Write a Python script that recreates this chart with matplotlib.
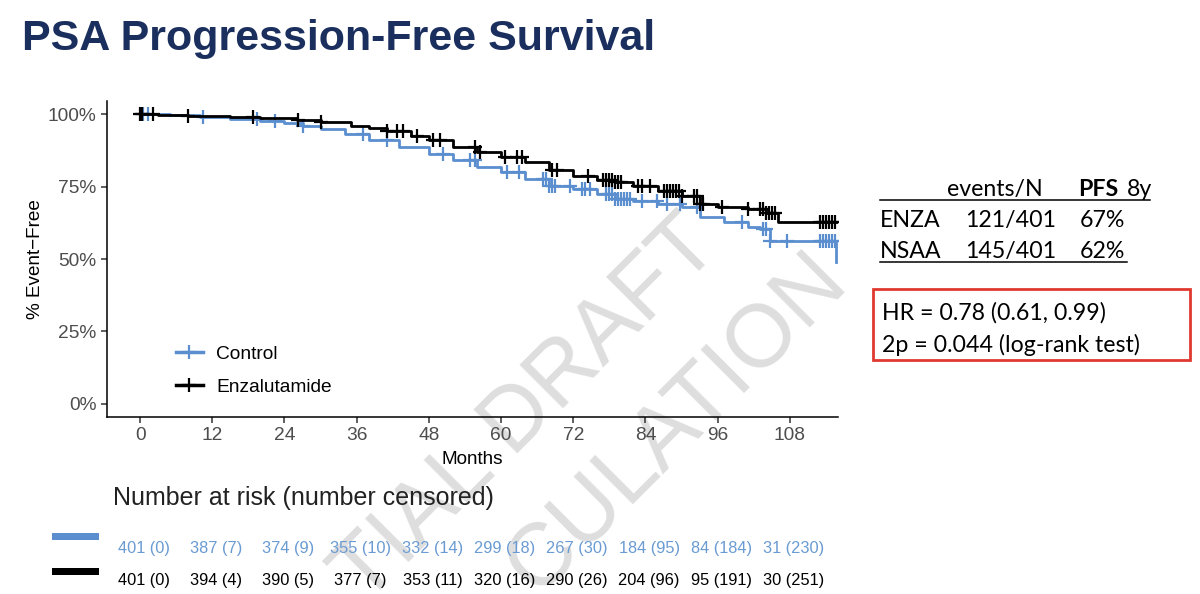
# PSA progression-free survival (KM) ---------------
import numpy as np
import matplotlib.pyplot as plt
from matplotlib.lines import Line2D
from matplotlib.patches import Rectangle
import matplotlib.transforms as mtrans

# 데이터 -------------------------------------------
enza_t = [0, 3, 8, 15, 20, 26, 30, 35, 38, 41, 45, 48, 52, 56, 60, 64, 68, 72,
          76, 79, 82, 86, 90, 93, 96, 101, 104, 106, 116]
enza_s = [100, 99.6, 99.2, 98.9, 98.5, 98.1, 97.2, 96.0, 95.2, 94.2, 92.5, 91.0,
          88.8, 87.0, 85.1, 83.4, 80.8, 78.7, 77.2, 76.5, 75.2, 73.5, 71.6, 69.0,
          67.8, 67.1, 66.0, 62.8, 62.8]
enza_cens = [0, 0.3, 2.2, 8, 18.8, 26.2, 30, 41, 42.7, 43.7, 46, 48.7, 49.8, 55.6,
             56.5, 60.6, 62.6, 63.5, 68.4, 69.3, 74.4, 77, 77.5, 78, 78.5, 79, 79.5,
             80, 82.7, 83.5, 84.7, 87, 87.5, 88, 88.5, 89, 89.5, 90, 92, 92.5, 93,
             93.5, 96.8, 101, 103, 103.5, 104, 104.5, 105, 105.5, 113, 113.5, 114,
             114.5, 115, 115.5]

ctrl_t = [0, 5, 10, 15, 20, 24, 27, 30, 34, 38, 43, 48, 52, 56, 60, 64, 68, 72,
          76, 79, 82, 86, 90, 93, 97, 101, 103, 104.7, 115.7]
ctrl_s = [100, 99.5, 99.0, 98.4, 97.5, 96.8, 96.0, 95.0, 93.2, 91.2, 88.6, 86.3,
          84.0, 81.7, 79.9, 77.5, 75.2, 74.0, 72.3, 70.6, 70.0, 68.9, 67.8, 64.4,
          62.6, 60.9, 60.2, 56.3, 49.0]
ctrl_cens = [0.5, 1.3, 10.5, 19.4, 22.4, 27, 37, 41, 50.3, 54.8, 55.6, 61, 63, 67,
             67.5, 68, 68.5, 69, 71.4, 73.4, 74, 74.8, 77.5, 78, 78.5, 79, 79.5, 80,
             80.5, 81, 81.4, 83.5, 85.9, 87.5, 89.7, 92.5, 100, 103.5, 104, 104.7,
             107.5, 113, 113.5, 114, 114.5, 115, 115.5]

risk_times = [0, 12, 24, 36, 48, 60, 72, 84, 96, 108]
ctrl_risk = ["401 (0)", "387 (7)", "374 (9)", "355 (10)", "332 (14)", "299 (18)",
             "267 (30)", "184 (95)", "84 (184)", "31 (230)"]
enza_risk = ["401 (0)", "394 (4)", "390 (5)", "377 (7)", "353 (11)", "320 (16)",
             "290 (26)", "204 (96)", "95 (191)", "30 (251)"]

BLUE = "#5b8ecf"
BLACK = "#000000"
NAVY = "#1b2f5e"

W, H = 1200, 594
def fx(x): return x / W
def fy(y): return 1 - y / H

plt.rcParams['font.family'] = ['Liberation Sans', 'DejaVu Sans']

fig = plt.figure(figsize=(12, 5.94), dpi=100)

# 워터마크 (보이는 부분만) ------------------------------
wm = dict(rotation=45, rotation_mode='anchor', ha='right', va='baseline',
          fontsize=64, color='#dedede', zorder=-5)
fig.text(fx(722), fy(248), "TIAL DRAFT", **wm)
fig.text(fx(850), fy(283), "CULATION", **wm)

# 제목 ----------------------------------------------
fig.text(fx(22), fy(50), "PSA Progression-Free Survival", fontsize=31,
         fontweight='bold', color=NAVY, va='baseline')

# KM 곡선 -------------------------------------------
ax = fig.add_axes([fx(107), fy(417), (838 - 107) / W, (417 - 101) / H])
ax.patch.set_visible(False)

def step_at(t, s, x):
    idx = np.searchsorted(t, x, side='right') - 1
    return np.asarray(s)[idx]

for t, s, c, col in [(ctrl_t, ctrl_s, ctrl_cens, BLUE), (enza_t, enza_s, enza_cens, BLACK)]:
    ax.step(t, s, where='post', color=col, lw=2.0)
    ax.plot(c, step_at(t, s, c), ls='none', marker='+', ms=10, mew=1.6, color=col)

ax.set_xlim(-5.5, 116)
ax.set_ylim(-4.5, 104.5)
ax.set_xticks(risk_times)
ax.set_yticks([0, 25, 50, 75, 100])
ax.set_yticklabels(["0%", "25%", "50%", "75%", "100%"])
for sp in ['top', 'right']:
    ax.spines[sp].set_visible(False)
for sp in ['left', 'bottom']:
    ax.spines[sp].set_linewidth(1.1)
ax.tick_params(labelsize=13.8, labelcolor='#4d4d4d', color='#333333', length=4, width=1.1)
ax.set_xlabel("Months", fontsize=13.6, labelpad=5)
ax.set_ylabel("% Event\u2212Free", fontsize=13.6, labelpad=3)

handles = [Line2D([], [], color=BLUE, lw=2.5, marker='+', ms=10, mew=1.6),
           Line2D([], [], color=BLACK, lw=2.5, marker='+', ms=10, mew=1.6)]
ax.legend(handles, ["Control", "Enzalutamide"], loc='center left',
          bbox_to_anchor=(fx(176), fy(370.5)), bbox_transform=fig.transFigure,
          frameon=False, fontsize=13.8, handlelength=1.4, handletextpad=0.7,
          labelspacing=0.8, borderpad=0, borderaxespad=0)

# Number at risk --------------------------------------
fig.text(fx(113), fy(498), "Number at risk (number censored)", fontsize=18,
         color='#222222', va='center')
fig.add_artist(Rectangle((fx(52), fy(540)), fx(47), 7 / H, color=BLUE, lw=0))
fig.add_artist(Rectangle((fx(52), fy(575)), fx(47), 7 / H, color=BLACK, lw=0))
tr = mtrans.blended_transform_factory(ax.transData, fig.transFigure)
for tm, a, b in zip(risk_times, ctrl_risk, enza_risk):
    fig.text(tm + 0.6, fy(548), a, transform=tr, ha='center', va='center',
             fontsize=11.8, color='#6a9bd2')
    fig.text(tm + 0.6, fy(580), b, transform=tr, ha='center', va='center',
             fontsize=11.8, color=BLACK)

# 오른쪽 표 ----------------------------------------------
tf = dict(family=['Lato', 'DejaVu Sans'], fontsize=16.7, va='baseline', color='black')
fig.text(fx(947), fy(196), "events/N", **tf)
fig.text(fx(1078), fy(196), "PFS", fontweight='bold', **tf)
fig.text(fx(1127), fy(196), "8y", **tf)
fig.text(fx(880), fy(227), "ENZA", **tf)
fig.text(fx(965), fy(227), "121/401", **tf)
fig.text(fx(1080), fy(227), "67%", **tf)
fig.text(fx(880), fy(258), "NSAA", **tf)
fig.text(fx(965), fy(258), "145/401", **tf)
fig.text(fx(1080), fy(258), "62%", **tf)
fig.add_artist(Line2D([fx(880), fx(1150)], [fy(200), fy(200)], color='black', lw=1.1))
fig.add_artist(Line2D([fx(880), fx(1127)], [fy(262), fy(262)], color='black', lw=1.1))

fig.add_artist(Rectangle((fx(873), fy(360)), (1190 - 873) / W, (360 - 289) / H,
                         fill=False, edgecolor='#e03a30', lw=2))
fig.text(fx(882), fy(320), "HR = 0.78 (0.61, 0.99)", **tf)
fig.text(fx(882), fy(352), "2p = 0.044 (log-rank test)", **tf)

fig.savefig("out.png", dpi=100)
